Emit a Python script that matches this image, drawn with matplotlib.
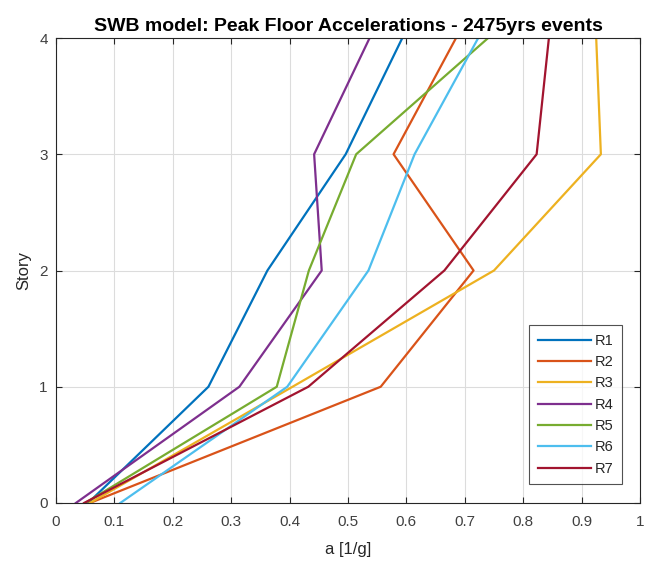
import matplotlib
matplotlib.use("Agg")
import matplotlib.pyplot as plt

plt.rcParams['font.family'] = ['Liberation Sans', 'DejaVu Sans']

stories = [0, 1, 2, 3, 4]
series_names = ["R1", "R2", "R3", "R4", "R5", "R6", "R7"]
R1 = [0.055, 0.261, 0.362, 0.496, 0.593]
R2 = [0.058, 0.556, 0.715, 0.578, 0.685]
R3 = [0.058, 0.405, 0.750, 0.933, 0.925]
R4 = [0.034, 0.314, 0.455, 0.442, 0.537]
R5 = [0.050, 0.378, 0.433, 0.514, 0.740]
R6 = [0.110, 0.396, 0.535, 0.614, 0.723]
R7 = [0.048, 0.432, 0.665, 0.823, 0.844]
series_values = [R1, R2, R3, R4, R5, R6, R7]
colors = ["#0072BD", "#D95319", "#EDB120", "#7E2F8E", "#77AC30", "#4DBEEE", "#A2142F"]

x_ticks = [0, 0.1, 0.2, 0.3, 0.4, 0.5, 0.6, 0.7, 0.8, 0.9, 1]
x_ticklabels = ["0", "0.1", "0.2", "0.3", "0.4", "0.5", "0.6", "0.7", "0.8", "0.9", "1"]
y_ticks = [0, 1, 2, 3, 4]

fig = plt.figure(figsize=(6.45, 5.61), dpi=100)
fig.patch.set_facecolor("white")
W, H = 645, 561
left, right, top, bottom = 56, 640, 38, 503
ax = fig.add_axes([left / W, 1 - bottom / H, (right - left) / W, (bottom - top) / H])

for name, vals, c in zip(series_names, series_values, colors):
    ax.plot(vals, stories, color=c, linewidth=1.6, label=name)

ax.set_xlim(0, 1)
ax.set_ylim(0, 4)
ax.set_xticks(x_ticks)
ax.set_xticklabels(x_ticklabels)
ax.set_yticks(y_ticks)
ax.grid(True, color="#dcdcdc", linewidth=0.8)
ax.set_axisbelow(True)
ax.tick_params(direction="in", length=4, width=0.8, colors="#262626",
               labelsize=11, top=True, right=True)
ax.tick_params(axis="x", pad=9)
ax.tick_params(axis="y", pad=6)
for tl in ax.get_xticklabels() + ax.get_yticklabels():
    tl.set_color("#404040")
for sp in ax.spines.values():
    sp.set_color("#262626")
    sp.set_linewidth(0.8)

ax.set_xlabel("a [1/g]", fontsize=12, color="#262626", labelpad=9)
ax.set_ylabel("Story", fontsize=12, color="#262626", labelpad=6)
ax.set_title("SWB model: Peak Floor Accelerations - 2475yrs events",
             fontsize=14, fontweight="bold", color="black", pad=5)

leg = ax.legend(loc="lower right", bbox_to_anchor=(0.97, 0.04), fontsize=10.5,
                frameon=True, fancybox=False, edgecolor="#262626",
                handlelength=3.6, handletextpad=0.3, borderpad=0.6,
                labelspacing=0.5, borderaxespad=0)
leg.get_frame().set_linewidth(0.8)
for t in leg.get_texts():
    t.set_color("#262626")

fig.savefig("out.png", dpi=100, facecolor="white")
